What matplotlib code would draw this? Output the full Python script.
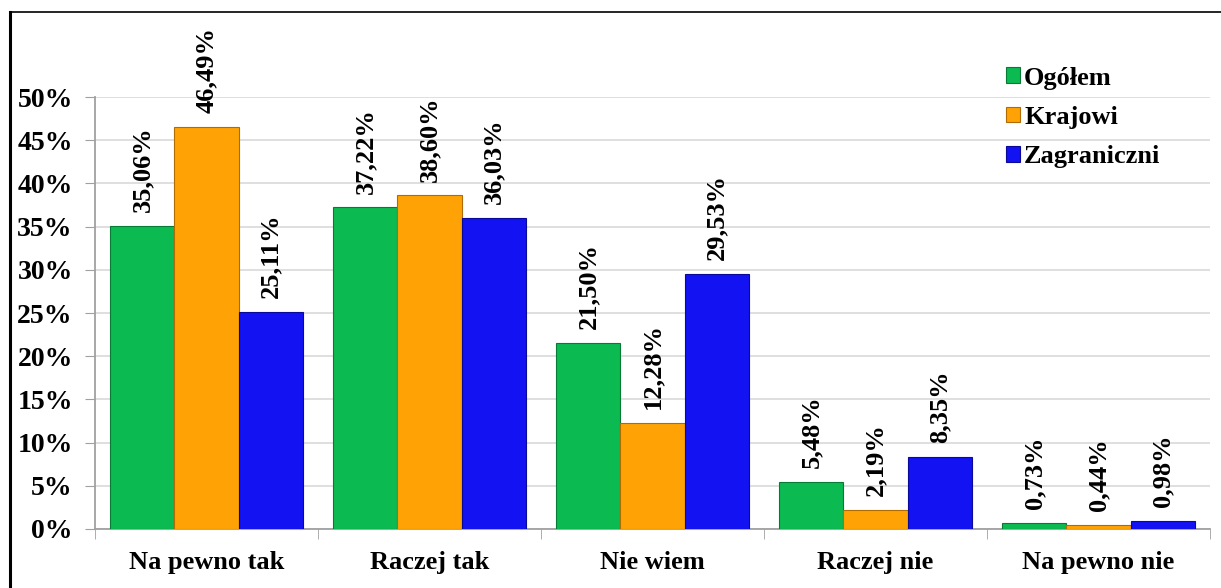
import matplotlib
matplotlib.use("Agg")
import matplotlib.pyplot as plt
import numpy as np
from matplotlib.lines import Line2D

categories = ["Na pewno tak", "Raczej tak", "Nie wiem", "Raczej nie", "Na pewno nie"]
series_names = ["Ogółem", "Krajowi", "Zagraniczni"]
ogolem = [35.06, 37.22, 21.50, 5.48, 0.73]
krajowi = [46.49, 38.60, 12.28, 2.19, 0.44]
zagraniczni = [25.11, 36.03, 29.53, 8.35, 0.98]
colors = ["#0cba52", "#ffa205", "#1212f2"]
edge_colors = ["#077a36", "#b06c00", "#0a0a9a"]
yticks = [0, 5, 10, 15, 20, 25, 30, 35, 40, 45, 50]

plt.rcParams['font.family'] = ['Liberation Serif', 'DejaVu Serif']
plt.rcParams['font.weight'] = 'bold'

W, H = 1221, 588
fig = plt.figure(figsize=(W / 100, H / 100), dpi=100)
ax = fig.add_axes([95/W, 1-529/H, (1210-95)/W, (529-97)/H])

x = np.arange(len(categories))
w = 0.287
data = [ogolem, krajowi, zagraniczni]
for i, (vals, c, ec, name) in enumerate(zip(data, colors, edge_colors, series_names)):
    pos = x + (i - 1) * w
    ax.bar(pos, vals, width=w, color=c, edgecolor=ec, linewidth=0.8, label=name, zorder=3)
    for px, v in zip(pos, vals):
        ax.annotate(f"{v:.2f}%".replace(".", ","), (px, v), xytext=(0, 10),
                    textcoords="offset points", rotation=90, ha="center", va="bottom",
                    fontsize=19, fontweight="bold", clip_on=False, annotation_clip=False)

ax.set_xlim(-0.5, len(categories) - 0.5)
ax.set_ylim(0, 50)
ax.set_yticks(yticks)
ax.set_yticklabels([f"{t}%" for t in yticks], fontsize=20, fontweight="bold")
ax.set_xticks(x)
ax.set_xticklabels(categories, fontsize=19, fontweight="bold")
ax.set_xticks(np.arange(-0.5, len(categories)), minor=True)
ax.tick_params(axis='x', which='major', length=0, pad=16)
ax.tick_params(axis='x', which='minor', length=7, color='#a0a0a0')
ax.tick_params(axis='y', length=7, color='#a0a0a0', pad=9)
ax.grid(axis='y', color='#d9d9d9', linewidth=1.2, zorder=0)
ax.set_axisbelow(True)
for s in ['top', 'right']:
    ax.spines[s].set_visible(False)
for s in ['left', 'bottom']:
    ax.spines[s].set_color('#a0a0a0')
    ax.spines[s].set_linewidth(1.3)

leg = ax.legend(loc='upper left', bbox_to_anchor=((995 - 95) / 1115, 1.095), frameon=False,
                prop={'size': 19, 'weight': 'bold'}, handlelength=0.55, handleheight=0.55,
                handletextpad=0.15, labelspacing=0.62, borderaxespad=0)

# chart-area frame: top and left edges visible
fig.add_artist(Line2D([10/W, 1.0], [1 - 12/H, 1 - 12/H], transform=fig.transFigure,
                      color='black', linewidth=1.2))
fig.add_artist(Line2D([10/W, 10/W], [1 - 12/H, 0.0], transform=fig.transFigure,
                      color='black', linewidth=2.2))

fig.savefig("out.png", dpi=100)
